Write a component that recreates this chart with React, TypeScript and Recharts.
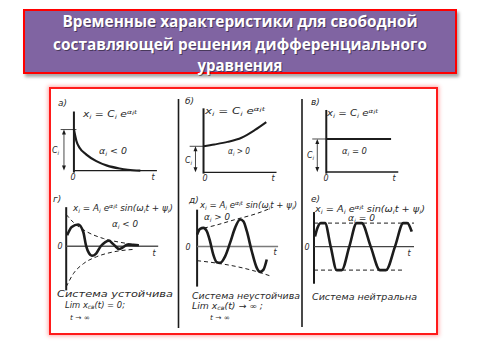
import React from "react";
import { ComposedChart, Line, Scatter, XAxis, YAxis, ReferenceLine } from "recharts";

type Pt = { t: number; x: number };
type Run = [string, number];

const pts = (rows: number[][]): Pt[] => rows.map(([t, x]) => ({ t, x }));

// а) alpha < 0, exponential decay
const decayA = pts([[0, 1.0], [0.3, 0.72], [0.7, 0.55], [1.5, 0.39], [2.7, 0.23], [4, 0.12], [5.5, 0.05], [6.5, 0.02], [8, 0]]);
// б) alpha > 0, exponential growth
const growB = pts([[0, 1.0], [1.5, 1.07], [3.3, 1.17], [5.2, 1.33], [7, 1.62], [8.6, 1.93]]);
// в) alpha = 0, constant
const constV = pts([[0, 1], [9, 1]]);

// г) damped oscillation and its envelope
const dampG = pts([[0.1, 0.34], [0.6, 0.6], [1.3, 0.68], [1.85, 0.45], [2.17, 0], [2.5, -0.23], [2.8, -0.3], [3.25, -0.23], [3.75, 0], [4.25, 0.13], [4.65, 0.17], [5.05, 0.08], [5.35, 0], [5.75, -0.09], [6.2, -0.03], [6.65, 0.05], [7.3, 0.04], [7.9, 0.03]]);
const envGUp = pts([[0, 0.99], [0.8, 0.74], [2.25, 0.45], [4.05, 0.24], [5.9, 0.12], [8, 0.03]]);
const envGDown = pts([[0, -1.27], [0.8, -0.85], [1.9, -0.54], [3.3, -0.33], [5.1, -0.18], [7.3, -0.1]]);

// д) growing oscillation and its envelope
const growD = pts([[0, 0.75], [0.37, 1.11], [0.78, 1.17], [1.2, 0.96], [1.6, 0.33], [2.0, -0.5], [2.43, -0.98], [2.84, -1.02], [3.46, -0.61], [4.07, 0.23], [4.69, 1.17], [5.31, 1.69], [5.72, 1.58], [6.14, 0.96], [6.75, -0.29], [7.37, -1.33], [7.78, -1.58], [8.2, -1.44], [8.6, -0.81]]);
const envDUp = pts([[0, 1.06], [2.25, 1.33], [4.7, 1.69], [7.2, 2.04], [9.2, 2.42]]);
const envDDown = pts([[0, -0.88], [2.25, -1.02], [4.7, -1.23], [7.2, -1.54], [9.2, -1.86]]);

// е) undamped oscillation
const neutE = pts([[0.1, 0.43], [0.33, 0.78], [0.67, 1.0], [1.1, 1.0], [1.67, 0], [2.27, -1.0], [2.77, -1.0], [3.53, 0], [4.27, 1.0], [4.77, 1.0], [5.67, 0], [6.6, -1.0], [7.2, -1.0], [8.1, 0], [8.93, 1.0], [9.33, 1.0], [9.77, 0.64]]);
const envEUp = pts([[0, 1], [10, 1]]);
const envEDown = pts([[0, -1], [8.8, -1]]);

const titleLines = [
  "Временные характеристики для свободной",
  "составляющей решения дифференциального",
  "уравнения",
];
const panelLabels = ["а)", "б)", "в)", "г)", "д)", "е)"];

const fC: Run[] = [["x", 0], ["i", -1], [" = C", 0], ["i", -1], [" e", 0], ["α", 1], ["i", 2], ["t", 1]];
const fA: Run[] = [["x", 0], ["i", -1], [" = A", 0], ["i", -1], [" e", 0], ["α", 1], ["i", 2], ["t", 1], [" sin(ω", 0], ["i", -1], ["t + ψ", 0], ["i", -1], [")", 0]];
const alpha = (s: string): Run[] => [["α", 0], ["i", -1], [" " + s + " 0", 0]];
const cLabel: Run[] = [["C", 0], ["i", -1]];

const INK = "#1c1c1c";

type Seg = { a: [number, number]; b: [number, number]; w: number; color?: string };
type Curve = { data: Pt[]; w: number; dash?: string };
type Arrow = { t: number; x: number; dir: "up" | "down" };
type PanelDef = {
  ox: number; oy: number; sx: number; sy: number;
  t0: number; t1: number; x0: number; x1: number;
  curves: Curve[]; segs: Seg[]; arrows: Arrow[];
};

const ArrowHead = (props: any) => {
  const { cx, cy, payload } = props;
  const d = payload.dir === "up"
    ? `M${cx},${cy} l-2,5 l4,0 z`
    : `M${cx},${cy} l-2,-5 l4,0 z`;
  return <path d={d} fill={INK} />;
};

function levelArrows(t: number, c: number): Arrow[] {
  return [{ t, x: c, dir: "up" }, { t, x: 0, dir: "down" }];
}

const panels: PanelDef[] = [
  {
    ox: 74, oy: 171, sx: 8.3, sy: 41, t0: -2.4, t1: 10.3, x0: -0.2, x1: 1.55,
    curves: [{ data: decayA, w: 2.2 }],
    segs: [
      { a: [0, -0.05], b: [0, 1.44], w: 2 },
      { a: [0, 0], b: [10, 0], w: 1.3 },
      { a: [-1.6, 1], b: [0.3, 1], w: 0.8 },
      { a: [-1.2, 0.05], b: [-1.2, 0.95], w: 0.8 },
    ],
    arrows: levelArrows(-1.2, 1),
  },
  {
    ox: 204, oy: 172, sx: 7.3, sy: 26, t0: -2.4, t1: 10.3, x0: -0.3, x1: 2.55,
    curves: [{ data: growB, w: 2 }],
    segs: [
      { a: [0, -0.05], b: [0, 2.46], w: 2 },
      { a: [0, 0], b: [10, 0], w: 1.3 },
      { a: [-1.9, 1], b: [0, 1], w: 0.8 },
      { a: [-1.1, 0.08], b: [-1.1, 0.92], w: 0.8 },
    ],
    arrows: levelArrows(-1.1, 1),
  },
  {
    ox: 326, oy: 172, sx: 7.2, sy: 33, t0: -2.4, t1: 10.3, x0: -0.2, x1: 2.0,
    curves: [{ data: constV, w: 2 }],
    segs: [
      { a: [0, -0.05], b: [0, 1.88], w: 2 },
      { a: [0, 0], b: [10, 0], w: 1.3 },
      { a: [-1.95, 1], b: [0, 1], w: 0.8 },
      { a: [-1.25, 0.06], b: [-1.25, 0.94], w: 0.8 },
    ],
    arrows: levelArrows(-1.25, 1),
  },
  {
    ox: 66, oy: 246, sx: 9.2, sy: 32, t0: -1, t1: 10.3, x0: -1.5, x1: 1.35,
    curves: [
      { data: envGUp, w: 1, dash: "4 3" },
      { data: envGDown, w: 1, dash: "4 3" },
      { data: dampG, w: 2.6 },
    ],
    segs: [
      { a: [0, -1.38], b: [0, 1.22], w: 2 },
      { a: [0, 0], b: [10, 0], w: 1.4, color: "#555" },
    ],
    arrows: [],
  },
  {
    ox: 197, oy: 247, sx: 8.1, sy: 16, t0: -1, t1: 10.3, x0: -2.7, x1: 2.6,
    curves: [
      { data: envDUp, w: 1, dash: "4 3" },
      { data: envDDown, w: 1, dash: "4 3" },
      { data: growD, w: 2.6 },
    ],
    segs: [
      { a: [0, -2.5], b: [0, 2.31], w: 2 },
      { a: [0, 0], b: [10, 0], w: 1.5, color: "#7a7a7a" },
    ],
    arrows: [],
  },
  {
    ox: 314, oy: 247, sx: 10, sy: 23.5, t0: -1, t1: 10.3, x0: -1.7, x1: 1.6,
    curves: [
      { data: envEUp, w: 1, dash: "4 3" },
      { data: envEDown, w: 1, dash: "4 3" },
      { data: neutE, w: 2.6 },
    ],
    segs: [
      { a: [0, -1.58], b: [0, 1.47], w: 2 },
      { a: [0, 0], b: [10, 0], w: 1.3, color: "#444" },
    ],
    arrows: [],
  },
];

function Panel({ p }: { p: PanelDef }) {
  const left = p.ox + p.t0 * p.sx;
  const top = p.oy - p.x1 * p.sy;
  const width = (p.t1 - p.t0) * p.sx;
  const height = (p.x1 - p.x0) * p.sy;
  return (
    <div style={{ position: "absolute", left, top }}>
      <ComposedChart width={width} height={height} margin={{ top: 0, right: 0, bottom: 0, left: 0 }}>
        <XAxis type="number" dataKey="t" domain={[p.t0, p.t1]} hide />
        <YAxis type="number" dataKey="x" domain={[p.x0, p.x1]} hide />
        {p.segs.map((s, i) => (
          <ReferenceLine
            key={"s" + i}
            segment={[{ x: s.a[0], y: s.a[1] }, { x: s.b[0], y: s.b[1] }]}
            stroke={s.color || INK}
            strokeWidth={s.w}
            ifOverflow="visible"
          />
        ))}
        {p.curves.map((c, i) => (
          <Line
            key={"c" + i}
            data={c.data}
            dataKey="x"
            type="monotone"
            stroke={INK}
            strokeWidth={c.w}
            strokeDasharray={c.dash}
            dot={false}
            activeDot={false}
            isAnimationActive={false}
          />
        ))}
        {p.arrows.length > 0 && (
          <Scatter data={p.arrows} dataKey="x" shape={ArrowHead} isAnimationActive={false} />
        )}
      </ComposedChart>
    </div>
  );
}

function Rich({ x, y, runs, size = 8, len }: { x: number; y: number; runs: Run[]; size?: number; len?: number }) {
  let prev = 0;
  return (
    <text x={x} y={y} fontSize={size} textLength={len} lengthAdjust={len ? "spacingAndGlyphs" : undefined} style={{ whiteSpace: "pre" }}>
      {runs.map(([s, lvl], i) => {
        const off = lvl === -1 ? 1.6 : lvl === 1 ? -3.5 : lvl === 2 ? -2 : 0;
        const dy = off - prev;
        prev = off;
        return (
          <tspan key={i} dy={dy} fontSize={lvl === 0 ? size : size * 0.7}>{s}</tspan>
        );
      })}
    </text>
  );
}

const labelPos = [[58, 106], [185, 104], [311, 105], [53, 202], [189, 203], [311, 202]];
const axisLabels = [
  [73, 180, 153, 180], [205, 181, 273, 181], [326, 181, 394, 181],
  [60, 249, 154, 256], [188, 250, 275, 255], [307, 250, 409, 256],
];

export default function App() {
  const hand = "'Liberation Sans Narrow', 'DejaVu Sans', sans-serif";
  return (
    <div style={{ position: "absolute", left: 0, top: 0, width: 480, height: 360, background: "#fff", overflow: "hidden" }}>
      <div style={{ position: "absolute", left: 23, top: 9, width: 434, height: 65, boxSizing: "border-box", background: "#8064a2", border: "2px solid #ff0000", boxShadow: "2px 3px 3px rgba(0,0,0,0.35)" }} />
      <div style={{ position: "absolute", left: 49, top: 87, width: 389, height: 248, boxSizing: "border-box", border: "2px solid #ff1a1a", boxShadow: "0 0 4px 1px rgba(255,60,60,0.45)" }} />
      {panels.map((p, i) => <Panel key={i} p={p} />)}
      <svg width={480} height={360} style={{ position: "absolute", left: 0, top: 0, pointerEvents: "none" }}>
        {/* title */}
        <g fontFamily="'Open Sans', 'DejaVu Sans', sans-serif" fontWeight={700} fontSize={15.5} textAnchor="middle">
          {titleLines.map((s, i) => (
            <g key={i}>
              <text x={241} y={[28, 51, 72][i]} fill="rgba(0,0,0,0.45)" textLength={[355, 374, 85][i]} lengthAdjust="spacingAndGlyphs">{s}</text>
              <text x={240} y={[27, 50, 71][i]} fill="#fff" textLength={[355, 374, 85][i]} lengthAdjust="spacingAndGlyphs">{s}</text>
            </g>
          ))}
        </g>
        {/* column separators of the scanned figure */}
        <line x1={178.5} y1={99} x2={178.5} y2={328} stroke={INK} strokeWidth={1.6} />
        <line x1={302} y1={99} x2={302} y2={327} stroke={INK} strokeWidth={1.6} />
        <g fontFamily={hand} fontStyle="italic" fill="#2a2a2a">
          {panelLabels.map((s, i) => (
            <text key={i} x={labelPos[i][0]} y={labelPos[i][1]} fontSize={9}>{s}</text>
          ))}
          {axisLabels.map((a, i) => (
            <g key={i} fontSize={8} textAnchor="middle">
              <text x={a[0]} y={a[1]}>0</text>
              <text x={a[2]} y={a[3]}>t</text>
            </g>
          ))}
          <Rich x={83} y={117} runs={fC} len={54} />
          <Rich x={205} y={114} runs={fC} len={60} />
          <Rich x={327} y={116} runs={fC} len={51} />
          <Rich x={73} y={211} runs={fA} len={100} />
          <Rich x={200} y={208} runs={fA} len={97} />
          <Rich x={315} y={212} runs={fA} len={110} />
          <Rich x={99} y={154} runs={alpha("<")} len={28} />
          <Rich x={228} y={154} runs={alpha(">")} len={22} />
          <Rich x={342} y={154} runs={alpha("=")} len={25} />
          <Rich x={112} y={227} runs={alpha("<")} len={26} />
          <Rich x={204} y={220} runs={alpha(">")} len={26} />
          <Rich x={348} y={221} runs={alpha("=")} len={27} />
          <Rich x={52} y={153} runs={cLabel} />
          <Rich x={185} y={163} runs={cLabel} />
          <Rich x={307} y={158} runs={cLabel} />
          <text x={57} y={297} fontSize={9} textLength={116} lengthAdjust="spacingAndGlyphs">Система устойчива</text>
          <Rich x={65} y={307.5} size={8.5} len={60} runs={[["Lim x", 0], ["св", -1], ["(t) = 0;", 0]]} />
          <text x={70} y={320} fontSize={7} textLength={20} lengthAdjust="spacingAndGlyphs">t → ∞</text>
          <text x={192} y={299} fontSize={9} textLength={108} lengthAdjust="spacingAndGlyphs">Система неустойчива</text>
          <Rich x={192} y={308.5} size={8.5} len={71} runs={[["Lim x", 0], ["св", -1], ["(t) → ∞ ;", 0]]} />
          <text x={210} y={320} fontSize={7} textLength={20} lengthAdjust="spacingAndGlyphs">t → ∞</text>
          <text x={312} y={300} fontSize={9} textLength={105} lengthAdjust="spacingAndGlyphs">Система нейтральна</text>
        </g>
      </svg>
    </div>
  );
}
